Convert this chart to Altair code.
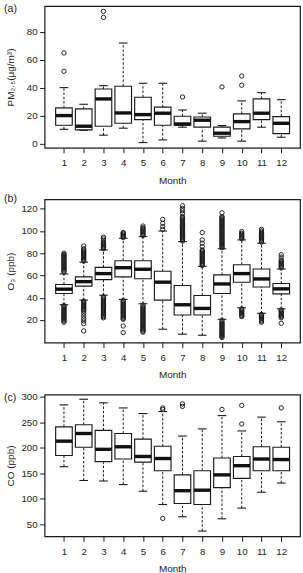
import altair as alt
import pandas as pd

months = [1, 2, 3, 4, 5, 6, 7, 8, 9, 10, 11, 12]
month_ticks = months

# ---- (a) PM2.5 ----
pm_lo = [10.2, 9.5, 6.0, 11.0, 0.7, 2.6, 11.7, 1.7, 4.0, 1.7, 11.7, 4.5]
pm_q1 = [13.1, 9.8, 12.4, 14.5, 17.1, 13.1, 13.1, 11.7, 5.2, 10.5, 17.1, 7.1]
pm_med = [20.0, 12.4, 31.9, 21.9, 20.7, 21.7, 14.0, 16.7, 7.4, 15.7, 21.7, 14.5]
pm_q3 = [25.5, 24.8, 39.0, 41.0, 33.1, 26.0, 19.5, 19.0, 11.7, 21.2, 31.9, 19.3]
pm_hi = [40.0, 28.1, 41.4, 71.9, 43.1, 43.1, 24.0, 21.7, 12.9, 30.5, 36.4, 31.4]
pm_out = [[51.7, 64.8], [], [90.2, 94.5], [], [], [], [33.3], [], [40.5], [41.7, 48.3], [], []]
pm_yticks = [0, 20, 40, 60, 80]

# ---- (b) O3 ----
o3_lo = [33.7, 37.9, 42.3, 38.5, 34.6, 11.7, 7.2, 6.3, 20.6, 31.0, 26.0, 30.0]
o3_q1 = [43.8, 50.4, 56.3, 58.7, 57.1, 37.9, 24.5, 24.5, 43.8, 53.9, 49.7, 43.5]
o3_med = [47.7, 54.5, 61.7, 67.0, 65.6, 54.0, 33.7, 30.4, 52.4, 61.7, 56.9, 48.0]
o3_q3 = [51.9, 58.7, 67.3, 73.3, 73.3, 63.8, 51.0, 42.0, 60.5, 69.7, 65.8, 52.8]
o3_hi = [61.4, 72.0, 83.0, 93.5, 95.0, 100.0, 90.5, 68.2, 84.0, 92.0, 89.0, 65.8]
o3_out = [
    [63, 64, 65, 66, 67, 68, 69, 70, 71, 72, 73, 74, 75, 76, 77, 78, 79, 80,
     18, 19, 20, 21, 22, 23, 24, 25, 26, 27, 28, 29, 30, 31, 32, 33],
    [73, 74, 75, 76, 77, 78, 79, 80, 81, 82, 83, 84, 86.5,
     28, 29, 30, 31, 32, 33, 34, 35, 36, 37, 26, 23.6, 21.2, 19.1, 16.7, 10.2],
    [84, 85, 86, 87, 88, 89, 90, 91.5, 93, 94.5,
     22, 23, 24, 25, 26, 27, 28, 29, 30, 31, 32, 33, 34, 35, 36, 37, 38, 39, 40, 41],
    [94, 95, 96, 97, 98, 98.6,
     20.6, 21.5, 22.5, 23.5, 24.5, 25.5, 26.5, 27.5, 28.5, 29.5, 30.5, 31.5, 32.5,
     33.5, 34.5, 35.5, 36.5, 37.5, 14.6, 8.7],
    [96, 97, 98, 99, 100, 101, 102, 103, 104.5,
     9, 10, 11, 12, 13, 14, 15, 16, 17, 18, 19, 20, 21, 22, 23, 24, 25, 26, 27, 28,
     29, 30, 31, 32, 33.5],
    [101.5, 104, 107, 110.4],
    [91, 92, 93, 94, 95, 96, 97, 98, 99, 100, 101, 102, 103, 104, 105, 106, 107, 108,
     109, 110, 111, 112, 113, 115.8, 118.2, 120.3, 122.7],
    [69, 70, 71, 72, 73, 74, 75, 76, 77, 78, 79, 80, 81, 82, 83, 86, 89, 92, 98.6],
    [85, 86, 87, 88, 89, 90, 91, 92, 93, 94, 95, 96, 97, 98, 99, 100, 101, 102, 103,
     104, 105, 106, 107, 108, 109, 110, 111, 112, 113, 116.4,
     4.2, 5, 6, 7, 8, 9, 10, 11, 12, 13, 14, 15, 16, 17, 18, 19.5],
    [93, 94, 95, 96, 97, 98, 99.5, 23, 24, 25, 26, 27, 28, 29, 30],
    [90, 91, 92, 93, 94, 95, 96, 97, 98, 99, 100, 101.5, 18, 19, 20, 21, 22, 23, 24, 25],
    [67, 68, 69, 70, 71, 72, 73, 74, 76.5, 78.7, 22, 23, 24, 25, 26, 27, 28, 29, 17],
]
o3_yticks = [20, 40, 60, 80, 100, 120]

# ---- (c) CO ----
co_lo = [163, 136, 135, 128, 115, 89, 65, 37, 61, 82, 113, 131]
co_q1 = [185, 201, 173, 178, 172, 155, 91, 89, 122, 140, 155, 155]
co_med = [213, 228, 197, 202, 183, 179, 116, 117, 147, 165, 178, 177]
co_q3 = [241, 245, 234, 228, 217, 203, 147, 155, 180, 183, 202, 201]
co_hi = [284, 295, 288, 278, 267, 271, 223, 237, 263, 233, 260, 251]
co_out = [[], [], [], [], [], [61.7, 275, 278], [281, 286], [], [275], [246.6, 283], [], [278]]
co_yticks = [50, 100, 150, 200, 250, 300]

FONT = "Liberation Sans"
LINE = "#1a1a1a"
TXT = "#222222"
W = 256


def panel(lo, q1, med, q3, hi, outs, ydomain, yticks, ytitle, label, label_y, height):
    df = pd.DataFrame(dict(month=months, lo=lo, q1=q1, med=med, q3=q3, hi=hi))
    rows = [(m, v) for m, vs in zip(months, outs) for v in vs]
    odf = pd.DataFrame(rows, columns=["month", "value"])

    xscale = alt.Scale(domain=[0.02, 12.95], nice=False, zero=False)
    xaxis = alt.Axis(values=month_ticks, title="Month", grid=False, domain=False,
                     tickSize=5, tickColor=LINE, tickWidth=1, labelPadding=5,
                     labelFlush=False, labelOverlap=False, labelFont=FONT,
                     labelFontSize=9.7, labelColor=TXT, titleFont=FONT,
                     titleFontSize=10, titleFontWeight="normal", titleColor=TXT,
                     titleBaseline="alphabetic", titleY=35.5, format="d")
    yscale = alt.Scale(domain=ydomain, nice=False, zero=False)
    yaxis = alt.Axis(values=yticks, title=ytitle, grid=False, domain=False,
                     tickSize=5, tickColor=LINE, tickWidth=1, labelPadding=2.5,
                     labelFont=FONT, labelFontSize=9.7, labelColor=TXT,
                     titleFont=FONT, titleFontSize=10, titleFontWeight="normal",
                     titleColor=TXT, titleBaseline="middle", titleX=-34, format="d")

    def X(f):
        return alt.X(f, type="quantitative", scale=xscale, axis=xaxis)

    def Y(f):
        return alt.Y(f, type="quantitative", scale=yscale, axis=yaxis)

    base = alt.Chart(df).transform_calculate(
        bx1="datum.month - 0.42", bx2="datum.month + 0.42",
        sx1="datum.month - 0.22", sx2="datum.month + 0.22")

    dash = [2.5, 1.8]
    w_up = base.mark_rule(color=LINE, strokeWidth=1, strokeDash=dash).encode(
        x=X("month"), y=Y("q3"), y2=alt.Y2("hi"))
    w_dn = base.mark_rule(color=LINE, strokeWidth=1, strokeDash=dash).encode(
        x=X("month"), y=Y("lo"), y2=alt.Y2("q1"))
    s_up = base.mark_rule(color=LINE, strokeWidth=1.1).encode(
        x=X("sx1"), x2=alt.X2("sx2"), y=Y("hi"))
    s_dn = base.mark_rule(color=LINE, strokeWidth=1.1).encode(
        x=X("sx1"), x2=alt.X2("sx2"), y=Y("lo"))
    box = base.mark_rect(fill="white", stroke=LINE, strokeWidth=1.15).encode(
        x=X("bx1"), x2=alt.X2("bx2"), y=Y("q1"), y2=alt.Y2("q3"))
    medl = base.mark_rule(color="#111111", strokeWidth=3.4, strokeCap="butt").encode(
        x=X("bx1"), x2=alt.X2("bx2"), y=Y("med"))
    pts = alt.Chart(odf).mark_point(shape="circle", filled=False, size=19,
                                    strokeWidth=0.95, color=LINE, opacity=1).encode(
        x=X("month"), y=Y("value"))
    lab = alt.Chart(pd.DataFrame({"t": [label]})).mark_text(
        align="left", baseline="middle", font=FONT, fontSize=10.5, color=TXT).encode(
        x=alt.value(-40.6), y=alt.value(label_y), text="t:N")

    return alt.layer(w_up, w_dn, s_up, s_dn, box, medl, pts, lab).properties(
        width=W, height=height)


pa = panel(pm_lo, pm_q1, pm_med, pm_q3, pm_hi, pm_out, [-3.05, 98.25], pm_yticks,
           "PM₂.₅(μg/m³)", "(a)", 2.7, 142)
pb = panel(o3_lo, o3_q1, o3_med, o3_q3, o3_hi, o3_out, [-0.3, 128.4], o3_yticks,
           "O₃ (ppb)", "(b)", 0.0, 143.5)
pc = panel(co_lo, co_q1, co_med, co_q3, co_hi, co_out, [26.7, 304.0], co_yticks,
           "CO (ppb)", "(c)", 3.0, 142)

chart = alt.vconcat(pa, pb, pc, spacing=51.7, bounds="flush").properties(
    padding={"left": 2.7, "top": 2.5, "right": 2, "bottom": 1}
).configure_view(stroke=LINE, strokeWidth=1.2)

chart.save("out.html", embed_options={"renderer": "svg", "actions": False})
